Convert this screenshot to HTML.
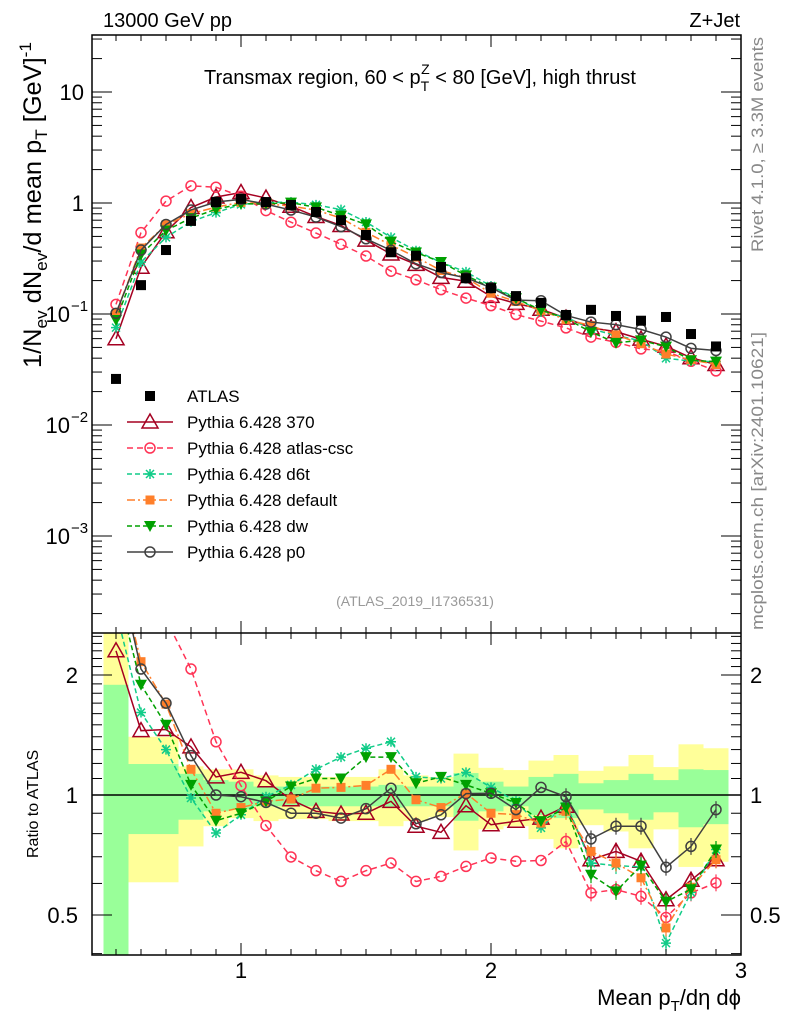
<!DOCTYPE html>
<html><head><meta charset="utf-8"><style>
body{margin:0;background:#fff}
svg{display:block;font-family:"Liberation Sans",sans-serif}
</style></head><body>
<svg id="chart" width="786" height="1024" viewBox="0 0 786 1024" xmlns="http://www.w3.org/2000/svg">
<defs><clipPath id="cm"><rect x="92" y="35" width="649" height="598"/></clipPath>
<clipPath id="cr"><rect x="92" y="633" width="649" height="322"/></clipPath></defs>
<g id="bands" clip-path="url(#cr)"></g>
<g id="main" clip-path="url(#cm)"></g>
<g id="ratio" clip-path="url(#cr)"></g>
<g id="axes"></g>
<text x="103" y="27" font-size="20">13000 GeV pp</text>
<text x="740" y="27" font-size="20" text-anchor="end">Z+Jet</text>
<text x="420" y="84" font-size="20" text-anchor="middle">Transmax region, 60 &lt; p<tspan font-size="14" dy="7">T</tspan><tspan font-size="14" dx="-8" dy="-17">Z</tspan><tspan dy="10"> &lt; 80 [GeV], high thrust</tspan></text>
<text transform="translate(763,252) rotate(-90)" font-size="17" fill="#888" textLength="215" lengthAdjust="spacingAndGlyphs">Rivet 4.1.0, ≥ 3.3M events</text>
<text transform="translate(763,630) rotate(-90)" font-size="17" fill="#888" textLength="298" lengthAdjust="spacingAndGlyphs">mcplots.cern.ch [arXiv:2401.10621]</text>
<text x="415" y="606" font-size="14" fill="#999" text-anchor="middle">(ATLAS_2019_I1736531)</text>
<text transform="translate(41,368) rotate(-90)" font-size="25" textLength="326" lengthAdjust="spacingAndGlyphs">1/N<tspan font-size="17" dy="6">ev</tspan><tspan dy="-6"> dN</tspan><tspan font-size="17" dy="6">ev</tspan><tspan dy="-6">/d mean p</tspan><tspan font-size="17" dy="6">T</tspan><tspan dy="-6"> [GeV]</tspan><tspan font-size="17" dy="-10">-1</tspan></text>
<text transform="translate(38,858) rotate(-90)" font-size="16">Ratio to ATLAS</text>
<text x="741" y="1005" font-size="22" text-anchor="end">Mean p<tspan font-size="15" dy="6">T</tspan><tspan dy="-6">/dη dϕ</tspan></text>
<g id="legend"></g>
</svg>
<script>
const xs=[0.5,0.6,0.7,0.8,0.9,1.0,1.1,1.2,1.3,1.4,1.5,1.6,1.7,1.8,1.9,2.0,2.1,2.2,2.3,2.4,2.5,2.6,2.7,2.8,2.9];
const atlas=[0.026,0.182,0.377,0.69,1.02,1.09,1.02,0.96,0.83,0.70,0.515,0.36,0.335,0.265,0.21,0.171,0.145,0.126,0.098,0.109,0.096,0.087,0.094,0.066,0.051];
const r370=[2.3,1.45,1.46,1.32,1.11,1.14,1.086,0.973,0.91,0.896,0.90,0.964,0.835,0.806,0.94,0.842,0.859,0.875,0.937,0.688,0.722,0.682,0.546,0.611,0.688];
const rCsc=[4.7,2.97,2.76,2.07,1.36,1.055,0.838,0.699,0.646,0.607,0.646,0.675,0.607,0.625,0.662,0.695,0.682,0.685,0.765,0.568,0.579,0.557,0.493,0.568,0.602];
const rD6t=[2.9,1.61,1.30,0.983,0.803,0.892,0.99,1.06,1.16,1.245,1.31,1.36,1.11,1.10,1.14,1.045,0.965,0.827,0.955,0.675,0.665,0.66,0.425,0.57,0.73];
const rDef=[3.9,2.16,1.69,1.16,0.90,0.93,0.964,0.977,1.04,1.045,1.057,1.16,0.973,0.93,1.01,0.90,0.893,0.85,0.91,0.722,0.675,0.62,0.464,0.587,0.688];
const rDw=[3.4,1.89,1.50,1.06,0.862,0.90,0.964,1.05,1.10,1.10,1.245,1.245,1.07,1.11,1.06,1.01,0.955,0.86,0.93,0.631,0.573,0.665,0.54,0.58,0.73];
const rP0=[3.9,2.07,1.70,1.255,1.0,0.99,0.958,0.90,0.90,0.875,0.924,1.04,0.847,0.892,1.008,1.01,0.919,1.045,0.99,0.776,0.835,0.835,0.659,0.743,0.919];
const yelHi=[3,1.40,1.40,1.18,1.16,1.16,1.12,1.11,1.11,1.11,1.11,1.16,1.12,1.11,1.27,1.17,1.155,1.22,1.26,1.15,1.18,1.26,1.175,1.34,1.31];
const yelLo=[0.2,0.604,0.604,0.743,0.835,0.875,0.86,0.87,0.87,0.86,0.86,0.835,0.86,0.88,0.726,0.82,0.835,0.775,0.735,0.84,0.81,0.735,0.82,0.66,0.68];
const grnHi=[1.89,1.196,1.196,1.13,1.09,1.08,1.05,1.05,1.05,1.05,1.05,1.06,1.05,1.05,1.135,1.08,1.05,1.11,1.13,1.07,1.09,1.13,1.09,1.16,1.155];
const grnLo=[0.2,0.798,0.798,0.867,0.91,0.92,0.937,0.937,0.937,0.937,0.937,0.93,0.937,0.937,0.862,0.91,0.937,0.89,0.875,0.92,0.90,0.867,0.905,0.83,0.845];
const yTickLabels=["10","1","10","10","10"];
const ratioTickLabels=["2","1","0.5"];

const NS="http://www.w3.org/2000/svg";
const X=v=>241+(v-1)*250;
const Y=v=>203-Math.log10(v)*111;
const R=v=>795-Math.log2(v)*120;
function el(t,a,p){const e=document.createElementNS(NS,t);for(const k in a)e.setAttribute(k,a[k]);p.appendChild(e);return e;}
const gM=document.getElementById('main'),gR=document.getElementById('ratio'),gB=document.getElementById('bands'),gA=document.getElementById('axes'),gL=document.getElementById('legend');

xs.forEach((x,i)=>{
 const x0=X(x-0.05),w=X(x+0.05)-x0;
 const y1=el('rect',{x:x0,y:R(yelHi[i]),width:w,height:R(yelLo[i])-R(yelHi[i]),fill:'#ffff99'},gB);
 
 
 const g1=el('rect',{x:x0,y:R(grnHi[i]),width:w,height:R(grnLo[i])-R(grnHi[i]),fill:'#99ff99'},gB);
 
 
});
el('line',{x1:92,x2:741,y1:R(1),y2:R(1),stroke:'#000','stroke-width':1.5},gR);

function marker(g,type,cx,cy,col){
 let m;
 if(type==='sq') m=el('rect',{x:cx-5,y:cy-5,width:10,height:10,fill:col},g);
 else if(type==='tri') m=el('path',{d:`M${cx},${cy-8}L${cx+8},${cy+6}L${cx-8},${cy+6}Z`,fill:'none',stroke:col,'stroke-width':1.5},g);
 else if(type==='circ') m=el('circle',{cx:cx,cy:cy,r:5,fill:'none',stroke:col,'stroke-width':1.5},g);
 else if(type==='osq') m=el('rect',{x:cx-4.5,y:cy-4.5,width:9,height:9,fill:col},g);
 else if(type==='dtri') m=el('path',{d:`M${cx-6},${cy-5}L${cx+6},${cy-5}L${cx},${cy+6}Z`,fill:col},g);
 else if(type==='star'){m=el('path',{d:`M${cx-5},${cy}L${cx+5},${cy}M${cx},${cy-5}L${cx},${cy+5}M${cx-4},${cy-4}L${cx+4},${cy+4}M${cx-4},${cy+4}L${cx+4},${cy-4}`,stroke:col,'stroke-width':1.5},g);}
 return m;
}
const series=[
 {name:'Pythia 6.428 370',key:'pythia-370',r:r370,col:'#a50021',dash:'',mk:'tri'},
 {name:'Pythia 6.428 atlas-csc',key:'pythia-atlas-csc',r:rCsc,col:'#ff3355',dash:'6,4',mk:'circ'},
 {name:'Pythia 6.428 d6t',key:'pythia-d6t',r:rD6t,col:'#11cc88',dash:'5,3',mk:'star'},
 {name:'Pythia 6.428 default',key:'pythia-default',r:rDef,col:'#ff7f2a',dash:'8,3,2,3',mk:'osq'},
 {name:'Pythia 6.428 dw',key:'pythia-dw',r:rDw,col:'#00a000',dash:'5,3',mk:'dtri'},
 {name:'Pythia 6.428 p0',key:'pythia-p0',r:rP0,col:'#404040',dash:'',mk:'circ'}
];
series.forEach(s=>{
 const vals=s.r.map((v,i)=>v*atlas[i]);
 const pm=el('polyline',{points:xs.map((x,i)=>X(x)+','+Y(vals[i])).join(' '),fill:'none',stroke:s.col,'stroke-width':1.5,'stroke-dasharray':s.dash},gM);
 
 
 const pr=el('polyline',{points:xs.map((x,i)=>X(x)+','+R(s.r[i])).join(' '),fill:'none',stroke:s.col,'stroke-width':1.5,'stroke-dasharray':s.dash},gR);
 
 
 xs.forEach((x,i)=>{
  const m=marker(gM,s.mk,X(x),Y(vals[i]),s.col);
  
  
  if(x>=2.3){const e=el('line',{x1:X(x),x2:X(x),y1:R(s.r[i]*1.05),y2:R(s.r[i]/1.05),stroke:s.col,'stroke-width':1.2},gR);
   
   }
  const m2=marker(gR,s.mk,X(x),R(s.r[i]),s.col);
  
  
 });
});
xs.forEach((x,i)=>{
 const m=marker(gM,'sq',X(x),Y(atlas[i]),'#000');
 
 
});

const leg=[{name:'ATLAS',col:'#000',mk:'sq',dash:null}].concat(series);
leg.forEach((s,i)=>{
 const y=396+i*26;
 const g=el('g',{},gL);
 
 
 if(s.dash!==null) el('line',{x1:127,x2:173,y1:y,y2:y,stroke:s.col,'stroke-width':1.5,'stroke-dasharray':s.dash},g);
 marker(g,s.mk,150,y,s.col);
 const t=el('text',{x:187,y:y+6,'font-size':17},g);t.textContent=s.name;
});

const fr=el('rect',{x:92,y:35,width:649,height:920,fill:'none',stroke:'#000','stroke-width':1.5},gA);


el('line',{x1:92,x2:741,y1:633,y2:633,stroke:'#000','stroke-width':1.5},gA);
for(let k=4;k<=30;k++){const v=k/10,px=X(v);if(px<92||px>741)continue;const L=(k%10===0)?12:6;
 [[35,35+L],[633,633-L],[633,633+L],[955,955-L]].forEach(p=>el('line',{x1:px,x2:px,y1:p[0],y2:p[1],stroke:'#000','stroke-width':1},gA));}
for(let d=-4;d<=1;d++)for(let m=1;m<10;m++){const v=m*Math.pow(10,d),py=Y(v);if(py<35||py>633)continue;const L=m===1?20:10;
 el('line',{x1:92,x2:92+L,y1:py,y2:py,stroke:'#000'},gA);el('line',{x1:741,x2:741-L,y1:py,y2:py,stroke:'#000'},gA);}
for(let k=4;k<=25;k++){const v=k/10,py=R(v);if(py<633||py>955)continue;const L=(k===5||k===10||k===20)?20:10;
 el('line',{x1:92,x2:92+L,y1:py,y2:py,stroke:'#000'},gA);el('line',{x1:741,x2:741-L,y1:py,y2:py,stroke:'#000'},gA);}
[1,2,3].forEach(v=>{const t=el('text',{x:X(v),y:978,'font-size':22,'text-anchor':'middle'},gA);t.textContent=v;
 });
const decs=[1,0,-1,-2,-3];
decs.forEach((d,i)=>{const t=el('text',{x:d>=0?84:70,y:Y(Math.pow(10,d))+8,'font-size':22,'text-anchor':'end'},gA);t.textContent=yTickLabels[i];
 
 if(d<0){const s=el('text',{x:71,y:Y(Math.pow(10,d))-3,'font-size':15},gA);s.textContent=String(d).replace('-','−');}});
[2,1,0.5].forEach((v,i)=>{[78,750].forEach(xx=>{const t=el('text',{x:xx,y:R(v)+8,'font-size':22,'text-anchor':xx<100?'end':'start'},gA);t.textContent=ratioTickLabels[i];
 });});
</script>
</body></html>
